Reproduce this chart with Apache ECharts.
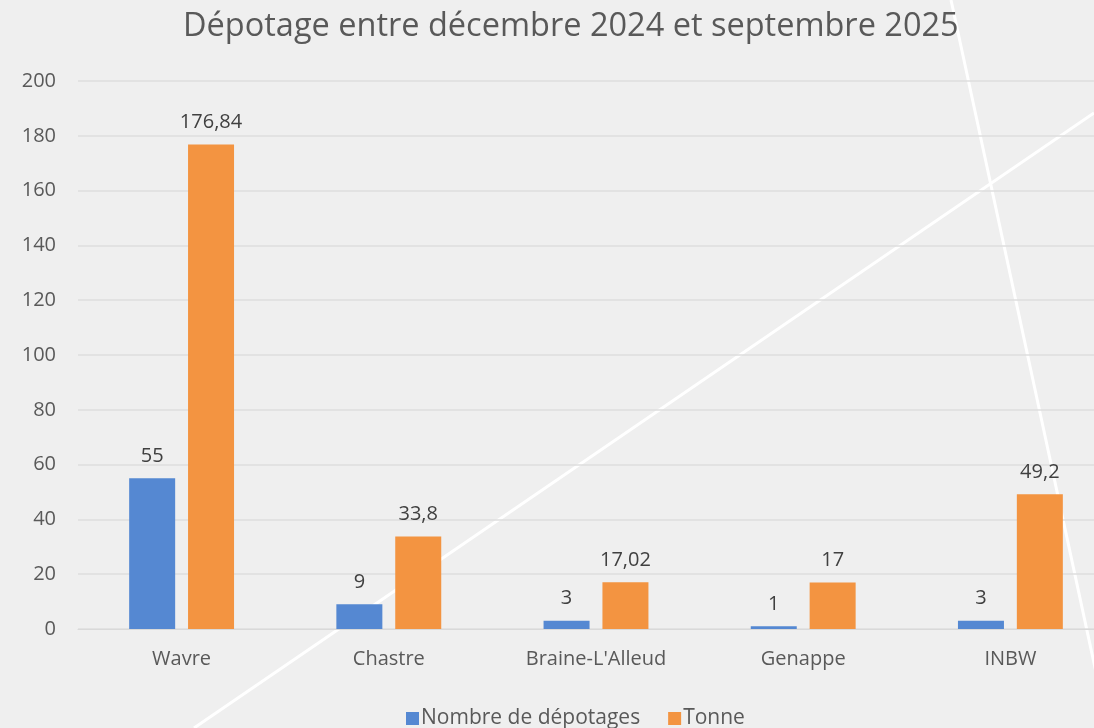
<!DOCTYPE html>
<html>
<head>
<meta charset="utf-8">
<script src="https://cdn.jsdelivr.net/npm/echarts@6/dist/echarts.min.js"></script>
<style>
  html, body { margin: 0; padding: 0; background: #efefef; }
  #chartBox { width: 1094px; height: 728px; }
</style>
</head>
<body>
<div id="chartBox"></div>
<script>
// données
const categories = ["Wavre", "Chastre", "Braine-L'Alleud", "Genappe", "INBW"];
const nombreDepotages = [55, 9, 3, 1, 3];
const tonnes = [176.84, 33.8, 17.02, 17, 49.2];
const yTicks = [0, 20, 40, 60, 80, 100, 120, 140, 160, 180, 200];

const fontFam = "'Open Sans', 'Noto Sans', sans-serif";
const fmt = p => String(p.value).replace(".", ",");

const myChart = echarts.init(document.getElementById("chartBox"));
const option = {
  backgroundColor: "#efefef",
  title: {
    text: "Dépotage entre décembre 2024 et septembre 2025",
    left: 178,
    top: 5,
    textStyle: { fontFamily: fontFam, fontSize: 32.5, fontWeight: "normal", color: "#595959" }
  },
  // lignes blanches de fond
  graphic: [
    { type: "line", z: 0, shape: { x1: 951, y1: 0, x2: 1108, y2: 728 }, style: { stroke: "#ffffff", lineWidth: 3 } },
    { type: "line", z: 0, shape: { x1: 194, y1: 728, x2: 1094, y2: 113 }, style: { stroke: "#ffffff", lineWidth: 3 } }
  ],
  legend: {
    bottom: -6,
    left: 401,
    itemWidth: 13,
    itemHeight: 13,
    itemGap: 28,
    icon: "rect",
    textStyle: { fontFamily: fontFam, fontSize: 21, color: "#595959", padding: [0, 0, 0, -3] },
    data: ["Nombre de dépotages", "Tonne"]
  },
  grid: { left: 78, width: 1036, top: 81, bottom: 99, outerBoundsMode: "none", containLabel: false },
  xAxis: {
    type: "category",
    data: categories,
    axisTick: { show: false },
    axisLine: { lineStyle: { color: "#d9d9d9" } },
    axisLabel: { fontFamily: fontFam, fontSize: 20, color: "#595959", margin: 20 }
  },
  yAxis: {
    type: "value",
    min: yTicks[0],
    max: yTicks[yTicks.length - 1],
    interval: 20,
    axisLabel: { fontFamily: fontFam, fontSize: 20, color: "#595959", margin: 22 },
    splitLine: { lineStyle: { color: "#dedede", width: 1.5 } }
  },
  series: [
    {
      name: "Nombre de dépotages",
      type: "bar",
      data: nombreDepotages,
      barWidth: 46,
      barGap: "28%",
      itemStyle: { color: "#5588d2" },
      label: { show: true, position: "top", distance: 12, formatter: fmt, fontFamily: fontFam, fontSize: 20, color: "#404040" }
    },
    {
      name: "Tonne",
      type: "bar",
      data: tonnes,
      barWidth: 46,
      itemStyle: { color: "#f39441" },
      label: { show: true, position: "top", distance: 12, formatter: fmt, fontFamily: fontFam, fontSize: 20, color: "#404040" }
    }
  ]
};
myChart.setOption(option);
</script>
</body>
</html>
